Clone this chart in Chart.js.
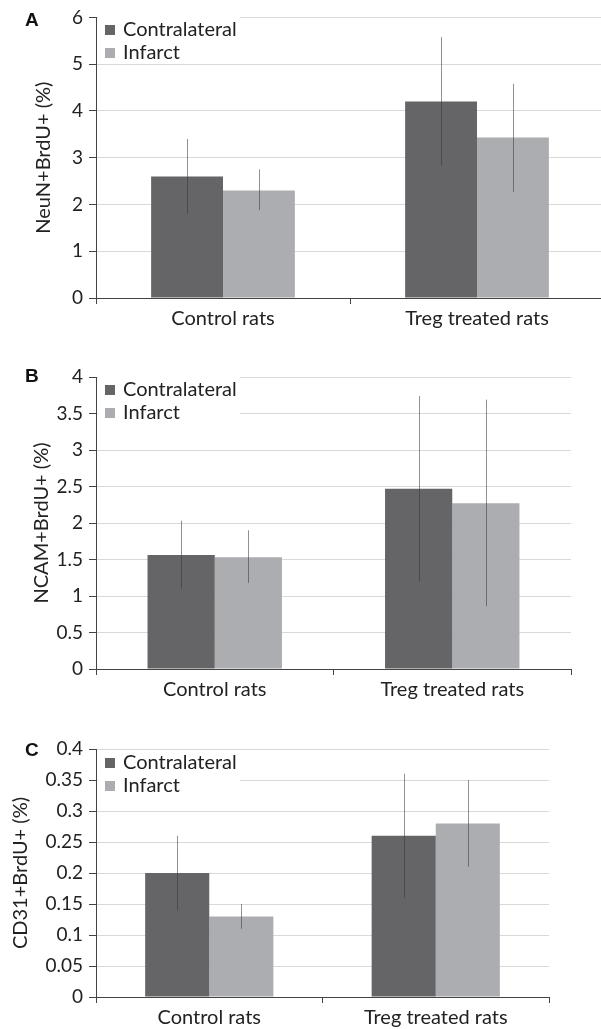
<!DOCTYPE html>
<html>
<head>
<meta charset="utf-8">
<script src="https://cdn.jsdelivr.net/npm/chart.js@4/dist/chart.umd.min.js"></script>
<style>
  html, body { margin:0; padding:0; background:#fff; overflow:hidden; width:601px; height:1029px; }
  body { position:relative; font-family: Lato, "DejaVu Sans", sans-serif; }
  canvas { position:absolute; left:0; }
  .letter { position:absolute; left:25px; font: bold 19px "Liberation Sans", Arial, sans-serif; color:#111; }
  .legend { position:absolute; left:98px; width:142px; background:#fff; font-size:20px; color:#222; line-height:23px; }
  .legend div { white-space:nowrap; }
  .legend span.sw { display:inline-block; width:10px; height:10px; margin-left:7px; margin-right:8px; vertical-align:1px; }
</style>
</head>
<body>
<canvas id="cA" width="612" height="340" style="top:0px"></canvas>
<canvas id="cB" width="601" height="371" style="top:340px"></canvas>
<canvas id="cC" width="601" height="318" style="top:711px"></canvas>

<div class="letter" style="top:9px">A</div>
<div class="letter" style="top:365px">B</div>
<div class="letter" style="top:739px">C</div>

<div class="legend" id="legA" style="top:17px;height:44px"></div>
<div class="legend" id="legB" style="top:377px;height:46px"></div>
<div class="legend" id="legC" style="top:750px;height:46px"></div>

<script>
// ---- data ----
const categories = ['Control rats', 'Treg treated rats'];
const seriesNames = ['Contralateral', 'Infarct'];
const seriesColors = ['#656567', '#acadb0'];

const neunContra = [2.6, 4.2];
const neunContraLo = [1.8, 2.83];
const neunContraHi = [3.4, 5.58];
const neunInfarct = [2.3, 3.43];
const neunInfarctLo = [1.88, 2.27];
const neunInfarctHi = [2.75, 4.58];
const neunTicks = [0, 1, 2, 3, 4, 5, 6];

const ncamContra = [1.56, 2.47];
const ncamContraLo = [1.1, 1.2];
const ncamContraHi = [2.03, 3.74];
const ncamInfarct = [1.53, 2.27];
const ncamInfarctLo = [1.18, 0.86];
const ncamInfarctHi = [1.9, 3.69];
const ncamTicks = [0, 0.5, 1, 1.5, 2, 2.5, 3, 3.5, 4];

const cd31Contra = [0.2, 0.26];
const cd31ContraLo = [0.14, 0.16];
const cd31ContraHi = [0.26, 0.36];
const cd31Infarct = [0.13, 0.28];
const cd31InfarctLo = [0.11, 0.21];
const cd31InfarctHi = [0.15, 0.35];
const cd31Ticks = [0, 0.05, 0.1, 0.15, 0.2, 0.25, 0.3, 0.35, 0.4];

const FONT = 'Lato, "DejaVu Sans", sans-serif';

const errorBars = {
  id: 'errorBars',
  afterDatasetsDraw(chart) {
    const ctx = chart.ctx;
    const y = chart.scales.y;
    ctx.save();
    ctx.strokeStyle = 'rgba(55,55,58,0.55)';
    ctx.lineWidth = 1;
    chart.data.datasets.forEach((ds, i) => {
      const meta = chart.getDatasetMeta(i);
      meta.data.forEach((el, j) => {
        const x = Math.round(el.x) + 0.5;
        ctx.beginPath();
        ctx.moveTo(x, y.getPixelForValue(ds.errLo[j]));
        ctx.lineTo(x, y.getPixelForValue(ds.errHi[j]));
        ctx.stroke();
      });
    });
    ctx.restore();
  }
};

function makeChart(id, vals, los, his, ticks, title, pad, xH, titlePad) {
  return new Chart(document.getElementById(id), {
    type: 'bar',
    data: {
      labels: categories,
      datasets: vals.map((v, i) => ({
        label: seriesNames[i],
        data: v,
        errLo: los[i],
        errHi: his[i],
        backgroundColor: seriesColors[i],
        borderWidth: 0,
        categoryPercentage: 0.566,
        barPercentage: 1.0
      }))
    },
    options: {
      responsive: false,
      animation: false,
      layout: { padding: pad },
      plugins: { legend: { display: false }, tooltip: { enabled: false } },
      scales: {
        x: {
          offset: true,
          grid: { display: true, drawOnChartArea: false, offset: true, tickLength: 6, tickColor: '#444', lineWidth: 1 },
          border: { display: true, color: '#444', width: 1 },
          ticks: { color: '#222', font: { family: FONT, size: 20 }, padding: 3, maxRotation: 0 },
          afterFit(s) { s.height = xH; }
        },
        y: {
          min: ticks[0],
          max: ticks[ticks.length - 1],
          afterBuildTicks(s) { s.ticks = ticks.map(v => ({ value: v })); },
          grid: { color: '#d9d9d9', lineWidth: 1, tickLength: 7, tickColor: '#444' },
          border: { display: true, color: '#444', width: 1 },
          ticks: { color: '#222', font: { family: FONT, size: 19 }, padding: 6,
                   callback: v => String(Number(v.toFixed(4))) },
          title: { display: true, text: title, color: '#222', font: { family: FONT, size: 20 }, padding: { top: titlePad, bottom: 0 } },
          afterFit(s) { s.width = 96; }
        }
      }
    },
    plugins: [errorBars]
  });
}

makeChart('cA', [neunContra, neunInfarct], [neunContraLo, neunInfarctLo], [neunContraHi, neunInfarctHi],
  neunTicks, 'NeuN+BrdU+ (%)', { top: 17, right: 8, left: 0, bottom: 0 }, 42, 32);
makeChart('cB', [ncamContra, ncamInfarct], [ncamContraLo, ncamInfarctLo], [ncamContraHi, ncamInfarctHi],
  ncamTicks, 'NCAM+BrdU+ (%)', { top: 37, right: 30, left: 0, bottom: 0 }, 42, 30);
makeChart('cC', [cd31Contra, cd31Infarct], [cd31ContraLo, cd31InfarctLo], [cd31ContraHi, cd31InfarctHi],
  cd31Ticks, 'CD31+BrdU+ (%)', { top: 38, right: 52, left: 0, bottom: 0 }, 32, 9);

['legA', 'legB', 'legC'].forEach(id => {
  const el = document.getElementById(id);
  seriesNames.forEach((n, i) => {
    const row = document.createElement('div');
    const sw = document.createElement('span');
    sw.className = 'sw';
    sw.style.background = seriesColors[i];
    row.appendChild(sw);
    row.appendChild(document.createTextNode(n));
    el.appendChild(row);
  });
});
</script>
</body>
</html>
